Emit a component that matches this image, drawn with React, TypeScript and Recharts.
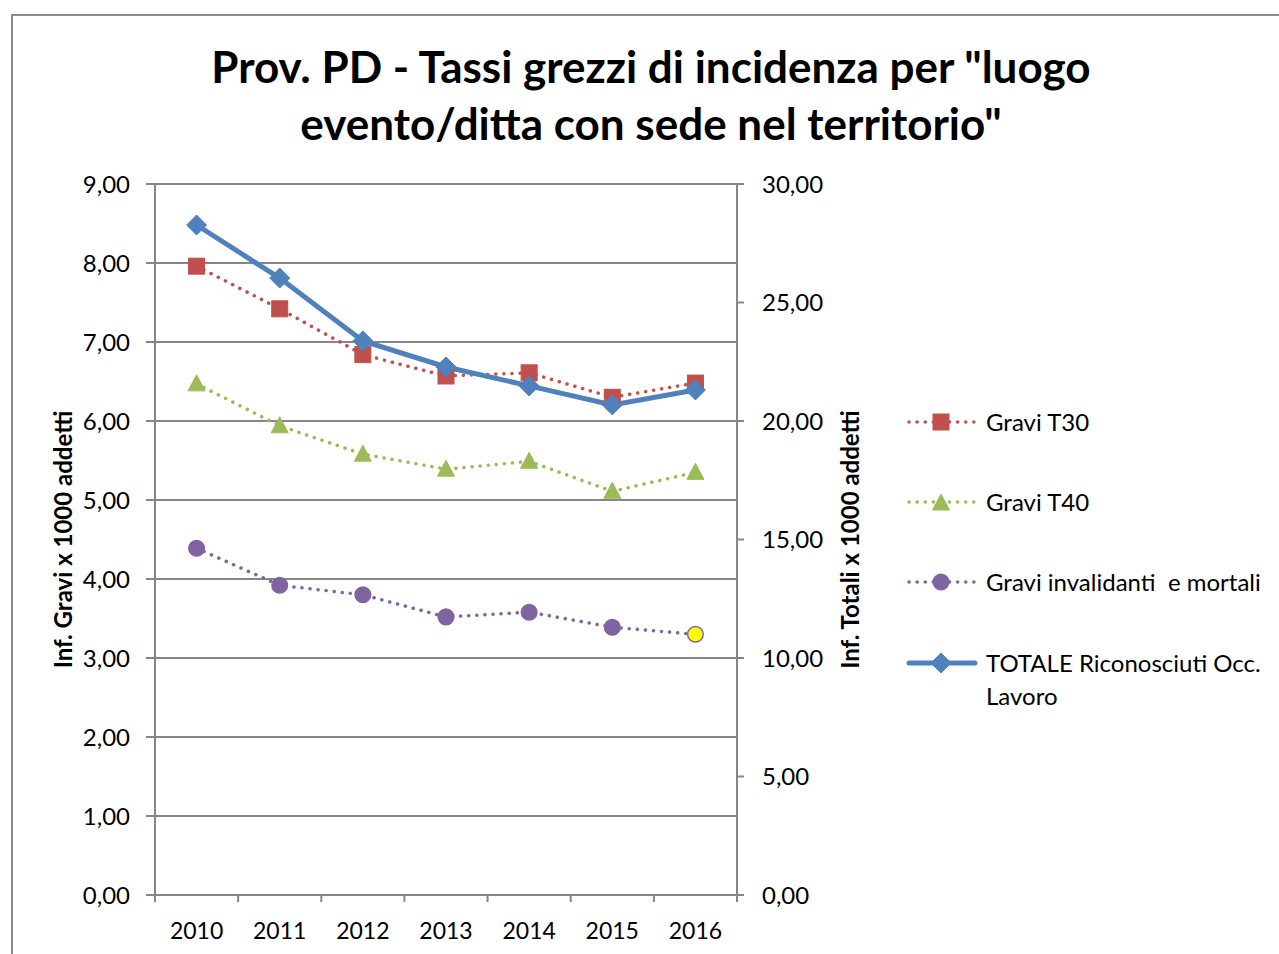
import React from 'react';
import { ComposedChart, Line, XAxis, YAxis, CartesianGrid } from 'recharts';

const categories = ['2010', '2011', '2012', '2013', '2014', '2015', '2016'];
const graviT30 = [7.96, 7.42, 6.84, 6.57, 6.61, 6.30, 6.48];
const graviT40 = [6.47, 5.94, 5.58, 5.39, 5.49, 5.11, 5.35];
const graviInv = [4.39, 3.92, 3.80, 3.52, 3.58, 3.39, 3.30];
const totale = [28.27, 26.03, 23.38, 22.28, 21.48, 20.68, 21.31];
const leftTicks = [0, 1, 2, 3, 4, 5, 6, 7, 8, 9];
const rightTicks = [0, 5, 10, 15, 20, 25, 30];

const titleLines = ['Prov. PD - Tassi grezzi di incidenza per "luogo', 'evento/ditta con sede nel territorio"'];
const leftLabel = 'Inf. Gravi x 1000 addetti';
const rightLabel = 'Inf. Totali x 1000 addetti';

const data = categories.map((c, i) => ({
  year: c,
  t30: graviT30[i],
  t40: graviT40[i],
  inv: graviInv[i],
  tot: totale[i],
}));

const FONT = 'Lato, "Open Sans", sans-serif';
const GRID = '#868686';
const RED = '#C0504D';
const GREEN = '#9BBB59';
const PURPLE = '#8064A2';
const BLUE = '#4F81BD';

const W = 1279;
const H = 954;
const M = { top: 184, right: 412, bottom: 19, left: 0 };
const LEFT_W = 155;
const RIGHT_W = 130;
const X_H = 40;
const PLOT_W = W - M.left - M.right - LEFT_W - RIGHT_W;

const fmt = (v: number) => v.toFixed(2).replace('.', ',');

const Square = ({ cx, cy, color }: any) => (
  <rect x={cx - 8} y={cy - 8} width={16} height={16} fill={color} stroke={color} strokeWidth={1} />
);
const Triangle = ({ cx, cy, color }: any) => (
  <polygon points={`${cx},${cy - 9} ${cx + 8.5},${cy + 7} ${cx - 8.5},${cy + 7}`} fill={color} stroke={color} strokeWidth={1} />
);
const Circle = ({ cx, cy, color, fill }: any) => (
  <circle cx={cx} cy={cy} r={7.8} fill={fill || color} stroke={color} strokeWidth={1.5} />
);
const Diamond = ({ cx, cy, color }: any) => (
  <polygon points={`${cx},${cy - 10} ${cx + 10},${cy} ${cx},${cy + 10} ${cx - 10},${cy}`} fill={color} stroke={color} strokeWidth={1} />
);

const XTick = (props: any) => {
  const { x, y, payload, index } = props;
  const bw = PLOT_W / categories.length;
  return (
    <g>
      <line x1={x - bw / 2} x2={x - bw / 2} y1={y} y2={y + 7} stroke={GRID} strokeWidth={2} />
      {index === categories.length - 1 && (
        <line x1={x + bw / 2} x2={x + bw / 2} y1={y} y2={y + 7} stroke={GRID} strokeWidth={2} />
      )}
      <text x={x} y={y + 44} textAnchor="middle" fontFamily={FONT} fontSize={23} fill="#000">
        {payload.value}
      </text>
    </g>
  );
};

const legendItems = [
  { name: 'Gravi T30', color: RED, marker: 'square', dotted: true },
  { name: 'Gravi T40', color: GREEN, marker: 'triangle', dotted: true },
  { name: 'Gravi invalidanti  e mortali', color: PURPLE, marker: 'circle', dotted: true },
  { name: 'TOTALE Riconosciuti Occ. Lavoro', color: BLUE, marker: 'diamond', dotted: false },
];

const LegendIcon = ({ item }: any) => {
  const cx = 35;
  const cy = 12;
  return (
    <svg width={72} height={24} style={{ display: 'block' }}>
      {item.dotted ? (
        <line x1={3} x2={69} y1={cy} y2={cy} stroke={item.color} strokeWidth={3.5} strokeDasharray="0.1 8" strokeLinecap="round" />
      ) : (
        <line x1={3} x2={69} y1={cy} y2={cy} stroke={item.color} strokeWidth={5} strokeLinecap="round" />
      )}
      {item.marker === 'square' && <Square cx={cx} cy={cy} color={item.color} />}
      {item.marker === 'triangle' && <Triangle cx={cx} cy={cy + 1} color={item.color} />}
      {item.marker === 'circle' && <Circle cx={cx} cy={cy} color={item.color} />}
      {item.marker === 'diamond' && <Diamond cx={cx} cy={cy} color={item.color} />}
    </svg>
  );
};

const legendTops = [410, 490, 570, 651];

const axisTitle = (text: string, dx: number) => ({ viewBox }: any) => {
  const x = viewBox.x + dx;
  const y = viewBox.y + viewBox.height / 2;
  return (
    <text
      x={x}
      y={y}
      transform={`rotate(-90 ${x} ${y})`}
      textAnchor="middle"
      dominantBaseline="central"
      fontFamily={FONT}
      fontWeight={700}
      fontSize={24}
      fill="#000"
    >
      {text}
    </text>
  );
};

export default function App() {
  return (
    <div style={{ position: 'absolute', left: 0, top: 0, width: W, height: H, background: '#fff', overflow: 'hidden' }}>
      <div
        style={{
          position: 'absolute',
          left: 11,
          top: 14,
          width: W,
          height: H,
          borderTop: '2px solid #8c8c8c',
          borderLeft: '2px solid #8c8c8c',
        }}
      />
      {titleLines.map((t, i) => (
        <div
          key={i}
          style={{
            position: 'absolute',
            left: 0,
            width: 1302,
            top: 38 + i * 57,
            lineHeight: '57px',
            textAlign: 'center',
            fontFamily: FONT,
            fontWeight: 700,
            fontSize: 44,
            color: '#000',
            whiteSpace: 'nowrap',
          }}
        >
          {t}
        </div>
      ))}
      <div style={{ position: 'absolute', left: 0, top: 0 }}>
        <ComposedChart width={W} height={H} data={data} margin={M}>
          <CartesianGrid yAxisId="left" vertical={false} stroke={GRID} strokeWidth={2} />
          <XAxis
            dataKey="year"
            scale="band"
            height={X_H}
            axisLine={{ stroke: GRID, strokeWidth: 2 }}
            tickLine={false}
            tickSize={0}
            tickMargin={0}
            tick={<XTick />}
            interval={0}
          />
          <YAxis
            yAxisId="left"
            width={LEFT_W}
            domain={[0, 9]}
            ticks={leftTicks}
            interval={0}
            tickFormatter={fmt}
            axisLine={{ stroke: GRID, strokeWidth: 2 }}
            tickLine={{ stroke: GRID, strokeWidth: 2 }}
            tickSize={9}
            tickMargin={16}
            tick={{ fontFamily: FONT, fontSize: 24, fill: '#000' }}
            label={{ content: axisTitle(leftLabel, 62) }}
          />
          <YAxis
            yAxisId="right"
            orientation="right"
            width={RIGHT_W}
            domain={[0, 30]}
            ticks={rightTicks}
            interval={0}
            tickFormatter={fmt}
            axisLine={{ stroke: GRID, strokeWidth: 2 }}
            tickLine={{ stroke: GRID, strokeWidth: 2 }}
            tickSize={7}
            tickMargin={18}
            tick={{ fontFamily: FONT, fontSize: 24, fill: '#000' }}
            label={{ content: axisTitle(rightLabel, 112) }}
          />
          <Line
            yAxisId="left"
            dataKey="t30"
            stroke={RED}
            strokeWidth={3.5}
            strokeDasharray="0.1 8"
            strokeLinecap="round"
            isAnimationActive={false}
            dot={(p: any) => <Square key={p.index} cx={p.cx} cy={p.cy} color={RED} />}
            activeDot={false}
          />
          <Line
            yAxisId="left"
            dataKey="t40"
            stroke={GREEN}
            strokeWidth={3.5}
            strokeDasharray="0.1 8"
            strokeLinecap="round"
            isAnimationActive={false}
            dot={(p: any) => <Triangle key={p.index} cx={p.cx} cy={p.cy} color={GREEN} />}
            activeDot={false}
          />
          <Line
            yAxisId="left"
            dataKey="inv"
            stroke={PURPLE}
            strokeWidth={3.5}
            strokeDasharray="0.1 8"
            strokeLinecap="round"
            isAnimationActive={false}
            dot={(p: any) => (
              <Circle
                key={p.index}
                cx={p.cx}
                cy={p.cy}
                color={PURPLE}
                fill={p.index === categories.length - 1 ? '#FFFF00' : undefined}
              />
            )}
            activeDot={false}
          />
          <Line
            yAxisId="right"
            dataKey="tot"
            stroke={BLUE}
            strokeWidth={5}
            isAnimationActive={false}
            dot={(p: any) => <Diamond key={p.index} cx={p.cx} cy={p.cy} color={BLUE} />}
            activeDot={false}
          />
        </ComposedChart>
      </div>
      {legendItems.map((item, i) => (
        <div
          key={item.name}
          style={{ position: 'absolute', left: 906, top: legendTops[i], display: 'flex', alignItems: 'flex-start' }}
        >
          <LegendIcon item={item} />
          <div
            style={{
              marginLeft: 8,
              width: 290,
              fontFamily: FONT,
              fontSize: 24,
              lineHeight: '33px',
              marginTop: -5,
              color: '#000',
              whiteSpace: 'pre-wrap',
            }}
          >
            {item.name}
          </div>
        </div>
      ))}
    </div>
  );
}
